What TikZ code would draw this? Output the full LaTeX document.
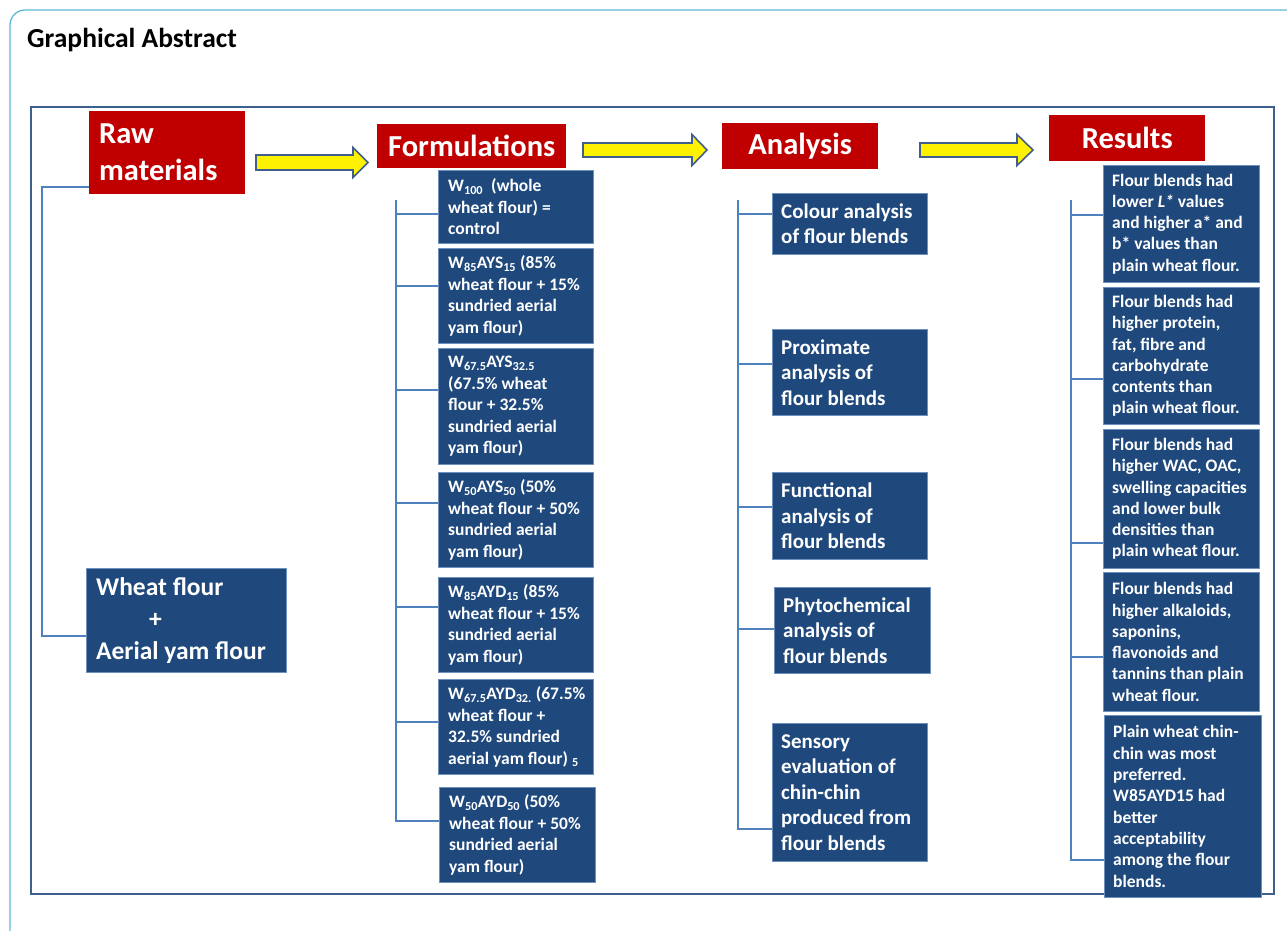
\documentclass[tikz,border=0pt]{standalone}
\usepackage{fontspec}
\setmainfont{Carlito}
\definecolor{boxblue}{RGB}{31,73,125}
\definecolor{boxedge}{RGB}{110,145,190}
\definecolor{hdrred}{RGB}{192,0,0}
\definecolor{brblue}{RGB}{79,129,189}
\definecolor{frameblue}{RGB}{62,96,140}
\definecolor{outerblue}{RGB}{95,185,215}
\definecolor{arrowedge}{RGB}{65,95,140}
\begin{document}
\begin{tikzpicture}[x=1pt,y=-1pt,
  bluebox/.style={fill=boxblue,draw=boxedge,line width=0.8pt,inner sep=0pt,anchor=north west},
  redbox/.style={fill=hdrred,inner sep=0pt,anchor=north west},
  wtxt/.style={text=white,inner sep=0pt,align=left,anchor=west},
  ftxt/.style={wtxt,font=\fontsize{17.5}{21.5}\selectfont\bfseries},
  atxt/.style={wtxt,font=\fontsize{21}{25.5}\selectfont\bfseries},
  rtxt/.style={wtxt,font=\fontsize{17.5}{21.3}\selectfont\bfseries},
  htxt/.style={text=white,inner sep=0pt,align=left,font=\fontsize{30.5}{37}\selectfont\bfseries},
  br/.style={draw=brblue,line width=1.1pt},
  yarrow/.style={fill=yellow,draw=arrowedge,line width=1.6pt,line join=miter}
]
\useasboundingbox (0,0) rectangle (1287,931);
\begin{scope}
\clip (0,0) rectangle (1287,931);
\draw[outerblue,line width=1.3pt,rounded corners=15pt] (10,1000) -- (10,10) -- (1330,10);
\end{scope}
\node[anchor=base west,inner sep=0pt,font=\fontsize{27.5}{32}\selectfont\bfseries] (title) at (27,48) {Graphical Abstract};
\draw[frameblue,line width=2.4pt] (31,107) rectangle (1274,894);

% headers
\node[redbox,minimum width=156pt,minimum height=83pt] (raw) at (89,111) {};
\node[htxt,anchor=west] (rawt) at ([xshift=10pt]raw.west) {Raw\\materials};
\node[redbox,minimum width=189pt,minimum height=44pt] (form) at (377,124) {};
\node[htxt] (formt) at (form.center) {Formulations};
\node[redbox,minimum width=156pt,minimum height=46pt] (anal) at (722,123) {};
\node[htxt] (analt) at (anal.center) {Analysis};
\node[redbox,minimum width=156pt,minimum height=46pt] (res) at (1049,115) {};
\node[htxt] (rest) at (res.center) {Results};

% yellow arrows
\draw[yarrow] (256,155) -- (353,155) -- (353,147.5) -- (368,162.5) -- (353,177.5) -- (353,170) -- (256,170) -- cycle;
\draw[yarrow] (583,143) -- (692,143) -- (692,134.5) -- (707,150) -- (692,165.5) -- (692,157) -- (583,157) -- cycle;
\draw[yarrow] (920,143) -- (1017,143) -- (1017,134.5) -- (1033,150) -- (1017,165.5) -- (1017,157) -- (920,157) -- cycle;

% raw material
\node[bluebox,minimum width=200pt,minimum height=104pt] (wf) at (86,568) {};
\node[wtxt,font=\fontsize{25.5}{32}\selectfont\bfseries] (wft) at ([xshift=10pt]wf.west) {Wheat flour\\\hspace*{53pt}+\\Aerial yam flour};
\draw[br] (raw.west |- 0,187) -- (42,187) -- (42,636) -- (wf.west |- 0,636);

% formulations
\node[bluebox,minimum width=155pt,minimum height=73pt] (f1) at (438,170) {};
\node[ftxt] (f1t) at ([xshift=10pt]f1.west) {W\textsubscript{100}\ \ (whole\\wheat flour) =\\control};
\node[bluebox,minimum width=155pt,minimum height=95pt] (f2) at (438,248) {};
\node[ftxt] (f2t) at ([xshift=10pt]f2.west) {W\textsubscript{85}AYS\textsubscript{15} (85\%\\wheat flour + 15\%\\sundried aerial\\yam flour)};
\node[bluebox,minimum width=155pt,minimum height=116pt] (f3) at (438,348) {};
\node[ftxt] (f3t) at ([xshift=10pt]f3.west) {W\textsubscript{67.5}AYS\textsubscript{32.5}\\(67.5\% wheat\\flour + 32.5\%\\sundried aerial\\yam flour)};
\node[bluebox,minimum width=155pt,minimum height=95pt] (f4) at (438,472) {};
\node[ftxt] (f4t) at ([xshift=10pt]f4.west) {W\textsubscript{50}AYS\textsubscript{50} (50\%\\wheat flour + 50\%\\sundried aerial\\yam flour)};
\node[bluebox,minimum width=155pt,minimum height=95pt] (f5) at (438,577) {};
\node[ftxt] (f5t) at ([xshift=10pt]f5.west) {W\textsubscript{85}AYD\textsubscript{15} (85\%\\wheat flour + 15\%\\sundried aerial\\yam flour)};
\node[bluebox,minimum width=155pt,minimum height=95pt] (f6) at (438,679) {};
\node[ftxt] (f6t) at ([xshift=10pt]f6.west) {W\textsubscript{67.5}AYD\textsubscript{32.} (67.5\%\\wheat flour +\\32.5\% sundried\\aerial yam flour) \textsubscript{5}};
\node[bluebox,minimum width=156pt,minimum height=95pt] (f7) at (439,787) {};
\node[ftxt] (f7t) at ([xshift=10pt]f7.west) {W\textsubscript{50}AYD\textsubscript{50} (50\%\\wheat flour + 50\%\\sundried aerial\\yam flour)};
\draw[br] (396,200) -- (396,821) -- (f7.west |- 0,821);
\foreach \yy/\nn in {214/f1,286/f2,390/f3,503/f4,607/f5,722/f6}
  \draw[br] (396,\yy) -- (\nn.west |- 0,\yy);

% analysis
\node[bluebox,minimum width=155pt,minimum height=61pt] (a1) at (772,193) {};
\node[atxt] (a1t) at ([xshift=9pt]a1.west) {Colour analysis\\of flour blends};
\node[bluebox,minimum width=155pt,minimum height=86pt] (a2) at (772,329) {};
\node[atxt] (a2t) at ([xshift=9pt]a2.west) {Proximate\\analysis of\\flour blends};
\node[bluebox,minimum width=155pt,minimum height=87pt] (a3) at (772,472) {};
\node[atxt] (a3t) at ([xshift=9pt]a3.west) {Functional\\analysis of\\flour blends};
\node[bluebox,minimum width=156pt,minimum height=86pt] (a4) at (774,587) {};
\node[atxt] (a4t) at ([xshift=9pt]a4.west) {Phytochemical\\analysis of\\flour blends};
\node[bluebox,minimum width=155pt,minimum height=138pt] (a5) at (772,723) {};
\node[atxt] (a5t) at ([xshift=9pt]a5.west) {Sensory\\evaluation of\\chin-chin\\produced from\\flour blends};
\draw[br] (738,200) -- (738,829) -- (a5.west |- 0,829);
\foreach \yy/\nn in {214/a1,364/a2,507/a3,629/a4}
  \draw[br] (738,\yy) -- (\nn.west |- 0,\yy);

% results
\node[bluebox,minimum width=156pt,minimum height=117pt] (r1) at (1103,165) {};
\node[rtxt] (r1t) at ([xshift=9pt]r1.west) {Flour blends had\\lower \textit{L*} values\\and higher a* and\\b* values than\\plain wheat flour.};
\node[bluebox,minimum width=156pt,minimum height=137pt] (r2) at (1103,287) {};
\node[rtxt] (r2t) at ([xshift=9pt]r2.west) {Flour blends had\\higher protein,\\fat, fibre and\\carbohydrate\\contents than\\plain wheat flour.};
\node[bluebox,minimum width=156pt,minimum height=139pt] (r3) at (1103,429) {};
\node[rtxt] (r3t) at ([xshift=9pt]r3.west) {Flour blends had\\higher WAC, OAC,\\swelling capacities\\and lower bulk\\densities than\\plain wheat flour.};
\node[bluebox,minimum width=156pt,minimum height=139pt] (r4) at (1103,572) {};
\node[rtxt] (r4t) at ([xshift=9pt]r4.west) {Flour blends had\\higher alkaloids,\\saponins,\\flavonoids and\\tannins than plain\\wheat flour.};
\node[bluebox,minimum width=157pt,minimum height=182pt] (r5) at (1104,715) {};
\node[rtxt] (r5t) at ([xshift=9pt]r5.west) {Plain wheat chin-\\chin was most\\preferred.\\W85AYD15 had\\better\\acceptability\\among the flour\\blends.};
\draw[br] (1071,200) -- (1071,860) -- (r5.west |- 0,860);
\foreach \yy/\nn in {215/r1,379/r2,543/r3,657/r4}
  \draw[br] (1071,\yy) -- (\nn.west |- 0,\yy);
\end{tikzpicture}
\end{document}
